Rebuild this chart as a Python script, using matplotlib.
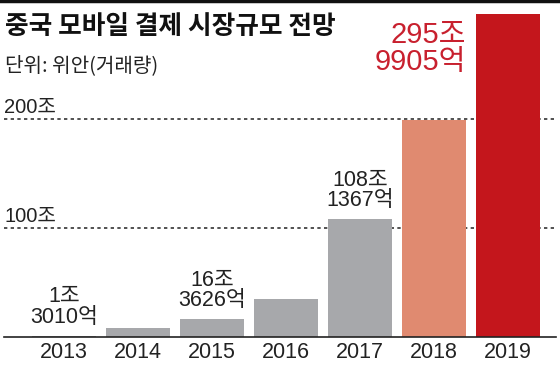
import matplotlib
matplotlib.use("Agg")
import matplotlib.pyplot as plt

plt.rcParams['font.family'] = ['Noto Sans CJK KR', 'DejaVu Sans']
NUMFONT = ['Liberation Sans', 'Noto Sans CJK KR', 'DejaVu Sans']

years = ["2013", "2014", "2015", "2016", "2017", "2018", "2019"]
values = [1.3, 8.0, 16.4, 35.0, 108.1, 199.0, 296.0]
bar_colors = ["#a7a8ab", "#a7a8ab", "#a7a8ab", "#a7a8ab", "#a7a8ab", "#e08a70", "#c4161c"]
labels = {0: "1조\n3010억", 2: "16조\n3626억", 4: "108조\n1367억"}
top_label = "295조\n9905억"
grid_values = [100, 200]
grid_labels = ["100조", "200조"]
title = "중국 모바일 결제 시장규모 전망"
subtitle = "단위: 위안(거래량)"

W, H = 560, 376
fig = plt.figure(figsize=(W / 100, H / 100), dpi=100)
ax = fig.add_axes([0, 0, 1, 1])
ax.set_axis_off()

x0, dx = 64.0, 74.0
base, ppu = 337.0, 1.09
ax.set_xlim((0 - x0) / dx, (W - x0) / dx)
ax.set_ylim(-(H - base) / ppu, base / ppu)

xs = list(range(len(years)))
xl = 4 / W
xr = 556 / W

for gv, gl in zip(grid_values, grid_labels):
    ax.axhline(gv, xmin=xl, xmax=xr, color="#333333", lw=1.2,
               linestyle=(0, (2, 2)), zorder=1)
    ax.text((4 - x0) / dx, gv + 2.0, gl, ha="left", va="bottom",
            fontsize=14.5, color="#222222", family=NUMFONT, zorder=3)

ax.bar(xs, values, width=64 / 74, color=bar_colors, zorder=2)
ax.axhline(0, xmin=xl, xmax=xr, color="#222222", lw=1.2, zorder=3)

for i, y in enumerate(years):
    ax.text(i, -(353 - base) / ppu, y, ha="center", va="center",
            fontsize=15.5, color="#222222", family=NUMFONT)

for i, txt in labels.items():
    ax.text(i, values[i] + 8 / ppu, txt, ha="center", va="bottom",
            fontsize=15.5, color="#222222", family=NUMFONT, linespacing=0.95)

ax.text((466 - x0) / dx, (base - 76) / ppu, top_label, ha="right", va="bottom",
        fontsize=21, color="#c8202e", family=NUMFONT, linespacing=0.95)

ax.axhline(base / ppu - 0.6, color="#111111", lw=2.5, zorder=5)

fig.text(5 / W, 1 - 27 / H, title, ha="left", va="center", fontsize=18.5,
         fontweight="bold", color="#111111")
fig.text(5 / W, 1 - 66 / H, subtitle, ha="left", va="center", fontsize=14.5,
         color="#222222")

fig.savefig("out.png", dpi=100)
